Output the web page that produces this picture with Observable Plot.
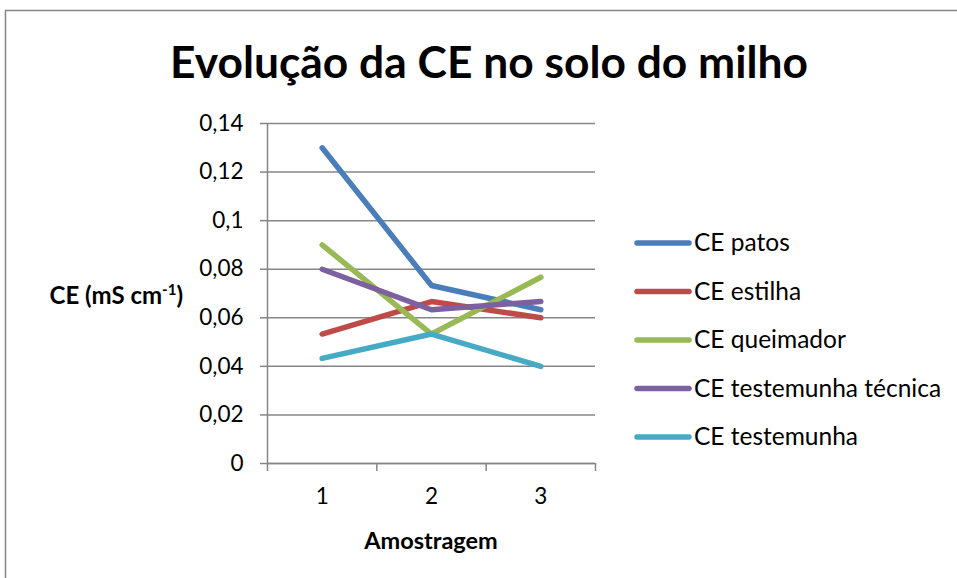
<!DOCTYPE html>
<html>
<head>
<meta charset="utf-8">
<script src="https://cdn.jsdelivr.net/npm/d3@7"></script>
<script src="https://cdn.jsdelivr.net/npm/@observablehq/plot@0.6"></script>
<style>
  html, body { margin: 0; padding: 0; background: #fff; }
  #chart svg { display: block; }
</style>
</head>
<body>
<div id="chart"></div>
<script>
const titleText = "Evolução da CE no solo do milho";
const xLabel = "Amostragem";
const samples = [1, 2, 3];
const seriesNames = ["CE patos", "CE estilha", "CE queimador", "CE testemunha técnica", "CE testemunha"];
const seriesColors = ["#4A7EBB", "#BE4B48", "#98B954", "#7D60A0", "#46AAC5"];
const cePatos = [0.130, 0.0733, 0.0633];
const ceEstilha = [0.0533, 0.0667, 0.0600];
const ceQueimador = [0.0900, 0.0533, 0.0767];
const ceTestemunhaTecnica = [0.0800, 0.0633, 0.0667];
const ceTestemunha = [0.0433, 0.0533, 0.0400];
const yTicks = [0, 0.02, 0.04, 0.06, 0.08, 0.1, 0.12, 0.14];
const xBounds = [0.5, 1.5, 2.5, 3.5];

const seriesValues = [cePatos, ceEstilha, ceQueimador, ceTestemunhaTecnica, ceTestemunha];
const data = [];
seriesNames.forEach((name, i) => {
  samples.forEach((s, j) => data.push({ series: name, sample: s, value: seriesValues[i][j] }));
});

const fmt = d => d === 0 ? "0" : String(d).replace(".", ",");
const grey = "#868686";
const FONT = "Lato, 'Open Sans', sans-serif";

const W = 957, H = 578;
const mL = 267, mR = W - 595, mT = 123, mB = H - 463;

const plot = Plot.plot({
  width: W,
  height: H,
  marginLeft: mL,
  marginRight: mR,
  marginTop: mT,
  marginBottom: mB,
  style: { fontFamily: FONT, fontSize: "22px", color: "#000", background: "#fff" },
  x: { type: "linear", domain: [0.5, 3.5] },
  y: { domain: [0, 0.14] },
  color: { domain: seriesNames, range: seriesColors },
  marks: [
    Plot.gridY(yTicks, { stroke: grey, strokeOpacity: 1, strokeWidth: 1.5 }),
    Plot.axisY({ ticks: yTicks, tickFormat: fmt, tickSize: 7, tickPadding: 17, stroke: grey, strokeWidth: 1.5, label: null, fontSize: 22.5 }),
    Plot.axisX({ ticks: xBounds, tickSize: 8, tickFormat: () => "", stroke: grey, strokeWidth: 1.5, label: null }),
    Plot.axisX({ ticks: samples, tickSize: 0, tickPadding: 25, tickFormat: d => String(d), label: null, fontSize: 22.5 }),
    Plot.ruleX([0.5], { stroke: grey, strokeWidth: 1.5 }),
    Plot.ruleY([0], { stroke: grey, strokeWidth: 1.5 }),
    Plot.line(data, { x: "sample", y: "value", z: "series", stroke: "series", strokeWidth: 5.5, strokeLinecap: "round", strokeLinejoin: "round" })
  ]
});

document.getElementById("chart").appendChild(plot);
const svg = d3.select(plot);

// outer chart frame
svg.append("rect")
  .attr("x", 5.5).attr("y", 10.5).attr("width", W + 20).attr("height", H + 20)
  .attr("fill", "none").attr("stroke", grey).attr("stroke-width", 1.5);

// title
svg.append("text")
  .attr("x", 489).attr("y", 78)
  .attr("text-anchor", "middle")
  .attr("font-family", FONT).attr("font-weight", "bold").attr("font-size", 44)
  .attr("textLength", 638).attr("lengthAdjust", "spacingAndGlyphs")
  .attr("fill", "#000")
  .text(titleText);

// y label
const yl = svg.append("text")
  .attr("x", 183).attr("y", 304)
  .attr("text-anchor", "end")
  .attr("font-family", FONT).attr("font-weight", "bold").attr("font-size", 24)
  .attr("fill", "#000");
yl.append("tspan").text("CE (mS cm");
yl.append("tspan").attr("font-size", 15).attr("dy", -9).text("-1");
yl.append("tspan").attr("dy", 9).text(")");

// x label
svg.append("text")
  .attr("x", 431).attr("y", 549)
  .attr("text-anchor", "middle")
  .attr("font-family", FONT).attr("font-weight", "bold").attr("font-size", 23.5)
  .attr("fill", "#000")
  .text(xLabel);

// legend
const legendY0 = 243, legendStep = 48.5;
seriesNames.forEach((name, i) => {
  const y = legendY0 + i * legendStep;
  svg.append("line")
    .attr("x1", 637).attr("x2", 689).attr("y1", y).attr("y2", y)
    .attr("stroke", seriesColors[i]).attr("stroke-width", 5.5).attr("stroke-linecap", "round");
  svg.append("text")
    .attr("x", 694).attr("y", y + 8)
    .attr("text-anchor", "start")
    .attr("font-family", FONT).attr("font-size", 24.5)
    .attr("fill", "#000")
    .text(name);
});
</script>
</body>
</html>
